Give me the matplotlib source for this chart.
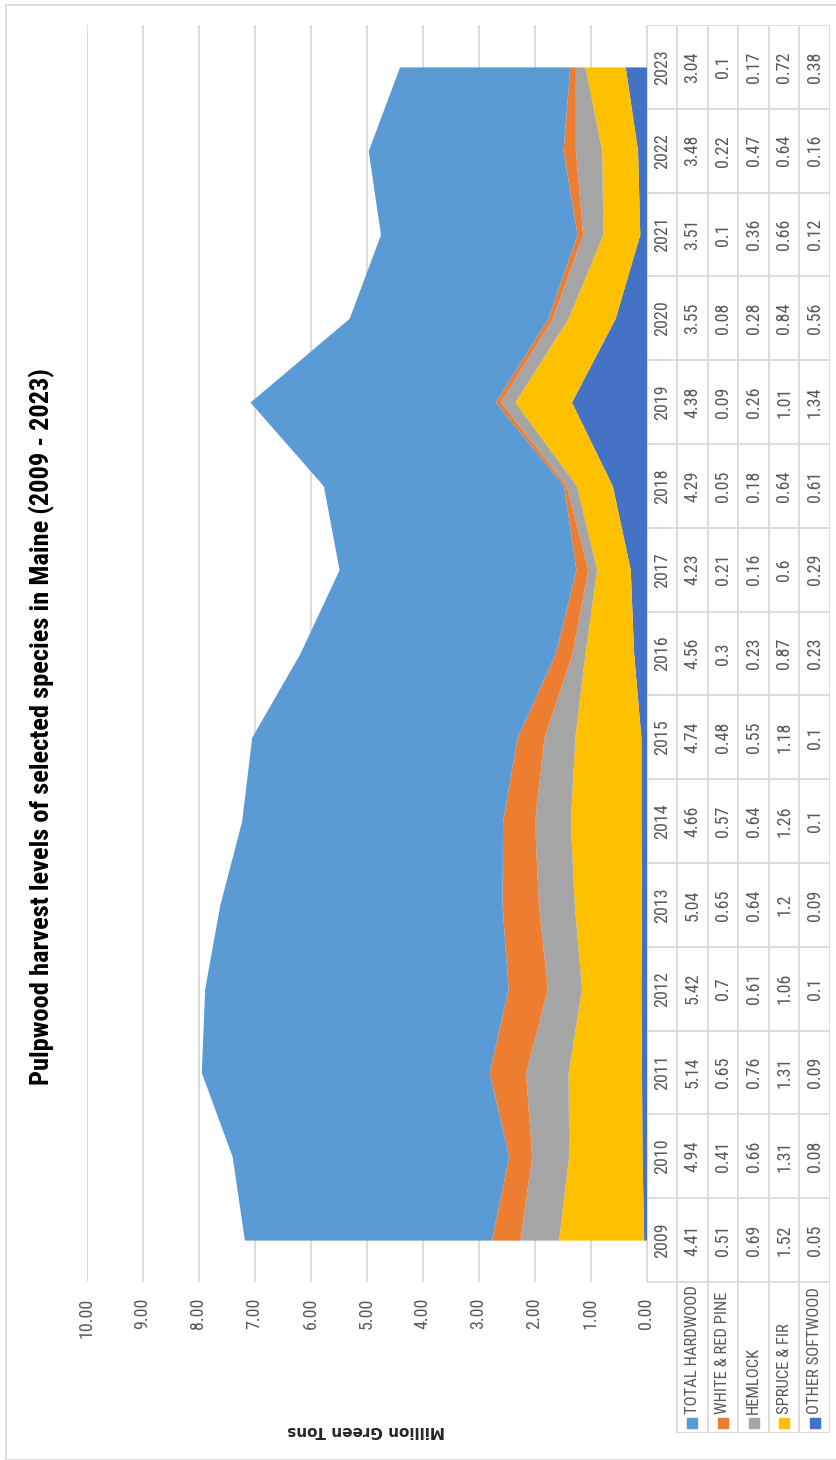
import matplotlib
matplotlib.use('Agg')
import matplotlib.pyplot as plt
from matplotlib import font_manager
from matplotlib.patches import Rectangle

# Pulpwood harvest by species group, million green tons
years = list(range(2009, 2024))
total_hardwood = [4.41, 4.94, 5.14, 5.42, 5.04, 4.66, 4.74, 4.56, 4.23, 4.29, 4.38, 3.55, 3.51, 3.48, 3.04]
white_red_pine = [0.51, 0.41, 0.65, 0.7, 0.65, 0.57, 0.48, 0.3, 0.21, 0.05, 0.09, 0.08, 0.1, 0.22, 0.1]
hemlock = [0.69, 0.66, 0.76, 0.61, 0.64, 0.64, 0.55, 0.23, 0.16, 0.18, 0.26, 0.28, 0.36, 0.47, 0.17]
spruce_fir = [1.52, 1.31, 1.31, 1.06, 1.2, 1.26, 1.18, 0.87, 0.6, 0.64, 1.01, 0.84, 0.66, 0.64, 0.72]
other_softwood = [0.05, 0.08, 0.09, 0.1, 0.09, 0.1, 0.1, 0.23, 0.29, 0.61, 1.34, 0.56, 0.12, 0.16, 0.38]

labels = ['TOTAL HARDWOOD', 'WHITE & RED PINE', 'HEMLOCK', 'SPRUCE & FIR', 'OTHER SOFTWOOD']
series = [total_hardwood, white_red_pine, hemlock, spruce_fir, other_softwood]
colors = ['#5B9BD5', '#ED7D31', '#A5A5A5', '#FFC000', '#4472C4']

value_ticks = list(range(0, 11))

names = {f.name for f in font_manager.fontManager.ttflist}
wanted = ['Roboto Condensed', 'Liberation Sans Narrow', 'Carlito', 'Open Sans Condensed']
narrow = [n for n in wanted if n in names] + ['DejaVu Sans']
plt.rcParams['font.family'] = narrow

# page is laid out sideways, years running up the page
W, H = 836, 1460
plot_left, plot_right = 86.5, 646.5
plot_top, plot_bottom = 25, 1282
table_right = 830
legend_bottom = 1433
grid_col = '#D9D9D9'
text_col = '#595959'
fs = 13

fig = plt.figure(figsize=(W / 100, H / 100), dpi=100)

# outer chart frame
fig.patches.append(Rectangle((6 / W, 0), 1.0, 1 - 5 / H, transform=fig.transFigure,
                             fill=False, edgecolor=grid_col, lw=1.2))

ax = fig.add_axes([plot_left / W, 1 - plot_bottom / H,
                   (plot_right - plot_left) / W, (plot_bottom - plot_top) / H])
ax.set_xlim(10, 0)
ax.set_ylim(years[0] - 0.5, years[-1] + 0.5)

# stack from the axis outward: other softwood first, hardwood last
base = [0.0] * len(years)
for vals, col in zip(series[::-1], colors[::-1]):
    top = [b + v for b, v in zip(base, vals)]
    ax.fill_betweenx(years, base, top, color=col, lw=0)
    base = top

ax.set_xticks(value_ticks)
ax.set_xticklabels([f'{v:.2f}' for v in value_ticks], rotation=90, color=text_col, fontsize=fs)
ax.tick_params(axis='x', length=0, pad=11)
ax.set_yticks([])
ax.grid(axis='x', color=grid_col, lw=1.3)
ax.set_axisbelow(True)
for s in ax.spines.values():
    s.set_visible(False)

# data table beside the plot
px_per_year = (plot_bottom - plot_top) / len(years)
tab_bottom = years[0] - 0.5 - (legend_bottom - plot_bottom) / px_per_year
tax = fig.add_axes([plot_right / W, 1 - legend_bottom / H,
                    (table_right - plot_right) / W, (legend_bottom - plot_top) / H])
tax.set_xlim(0, 6)
tax.set_ylim(tab_bottom, years[-1] + 0.5)
tax.axis('off')

lo, hi = years[0] - 0.5, years[-1] + 0.5
for k in range(len(years) + 1):
    tax.plot([0, 6], [lo + k, lo + k], color=grid_col, lw=1.3, solid_capstyle='butt')
tax.plot([1, 6], [tab_bottom, tab_bottom], color=grid_col, lw=1.3)
tax.plot([0, 0], [lo, hi], color=grid_col, lw=1.3)
for r in range(1, 7):
    tax.plot([r, r], [tab_bottom, hi], color=grid_col, lw=1.3)

for i, y in enumerate(years):
    tax.text(0.5, y, str(y), rotation=90, ha='center', va='center', color=text_col, fontsize=fs)
    for r, vals in enumerate(series, start=1):
        tax.text(r + 0.5, y, f'{vals[i]:g}', rotation=90, ha='center', va='center',
                 color=text_col, fontsize=fs)

# legend keys in the first column
key_y = tab_bottom + 10 / px_per_year
for r, (lab, col) in enumerate(zip(labels, colors), start=1):
    tax.plot(r + 0.5, key_y, marker='s', ms=6.5, color=col, ls='none')
    tax.text(r + 0.5, key_y + 9 / px_per_year, lab, rotation=90, ha='center', va='bottom',
             color=text_col, fontsize=12)

fig.text(42 / W, 1 - 727 / H, 'Pulpwood harvest levels of selected species in Maine (2009 - 2023)',
         rotation=90, ha='center', va='center', fontsize=19, fontweight='bold', color='black')
fig.text((plot_left + plot_right) / 2 / W, 1 - 1431 / H, 'Million Green Tons',
         rotation=180, ha='center', va='center', fontsize=11, fontweight='bold',
         color='#262626', family='DejaVu Sans')

fig.savefig('out.png', dpi=100)
